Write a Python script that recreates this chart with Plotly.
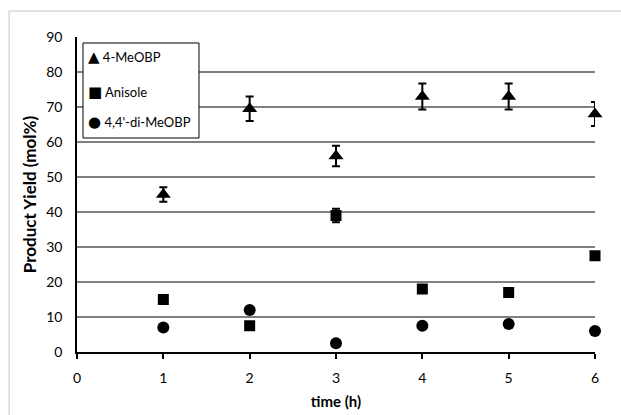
import plotly.graph_objects as go

time_h = [1, 2, 3, 4, 5, 6]
meobp = [45, 69.5, 56, 73, 73, 68]
meobp_err = [2.1, 3.5, 2.9, 3.7, 3.7, 3.4]
anisole = [15, 7.5, 39, 18, 17, 27.5]
anisole_err = [0, 0, 1.9, 0, 0, 0.6]
dimeobp = [7, 12, 2.5, 7.5, 8, 6]
names = ["4-MeOBP", "Anisole", "4,4'-di-MeOBP"]
legend_glyphs = ["\u25B2", "\u25A0", "\u25CF"]
x_ticks = [0, 1, 2, 3, 4, 5, 6]
y_ticks = [0, 10, 20, 30, 40, 50, 60, 70, 80, 90]

FONT = "Lato, 'Open Sans', sans-serif"

fig = go.Figure()
fig.add_trace(go.Scatter(
    x=time_h, y=meobp, mode="markers", name=names[0], cliponaxis=False,
    marker=dict(symbol="triangle-up", size=13, color="black"),
    error_y=dict(type="data", array=meobp_err, visible=True, color="black", thickness=2, width=4)))
fig.add_trace(go.Scatter(
    x=time_h, y=anisole, mode="markers", name=names[1], cliponaxis=False,
    marker=dict(symbol="square", size=11, color="black"),
    error_y=dict(type="data", array=anisole_err, visible=True, color="black", thickness=2, width=4)))
fig.add_trace(go.Scatter(
    x=time_h, y=dimeobp, mode="markers", name=names[2], cliponaxis=False,
    marker=dict(symbol="circle", size=12, color="black")))

# custom legend (box + text entries)
leg_x0, leg_x1, leg_y0, leg_y1 = 0.0116, 0.2355, 0.6794, 0.981
row_y = [0.9365, 0.8254, 0.7302]
annotations = []
for g, n, yy in zip(legend_glyphs, names, row_y):
    annotations.append(dict(
        xref="paper", yref="paper", x=0.0165, y=yy, xanchor="left", yanchor="middle",
        showarrow=False,
        text=f"<span style='font-family:DejaVu Sans;font-size:15px'>{g}</span> {n}",
        font=dict(family=FONT, size=13, color="black")))

fig.update_layout(
    width=621, height=415,
    margin=dict(l=77, r=26, t=37, b=63, autoexpand=False),
    paper_bgcolor="white", plot_bgcolor="white",
    font=dict(family=FONT, size=14, color="black"),
    showlegend=False,
    xaxis=dict(range=[0, 6], tickvals=x_ticks, showgrid=False, automargin=False,
               showline=True, linecolor="black", linewidth=1.5,
               ticks="outside", ticklen=5, tickcolor="black", tickwidth=1.5,
               tickfont=dict(size=14), zeroline=False, ticklabelstandoff=7,
               title=dict(text="<b>time (h)</b>", font=dict(size=15), standoff=12)),
    yaxis=dict(range=[0, 90], tickvals=y_ticks, showgrid=True, automargin=False,
               gridcolor="#808080", gridwidth=1.5,
               showline=True, linecolor="black", linewidth=1.5,
               ticks="", tickfont=dict(size=14), zeroline=False, ticklabelstandoff=10,
               title=dict(text="<b>Product Yield (mol%)</b>", font=dict(size=17), standoff=5)),
    shapes=[dict(type="rect", xref="paper", yref="paper",
                 x0=-0.131, x1=1.1, y0=-0.25, y1=1.0825,
                 line=dict(color="#d9d9d9", width=1.5), fillcolor="rgba(0,0,0,0)",
                 layer="below"),
            dict(type="rect", xref="paper", yref="paper",
                 x0=leg_x0, x1=leg_x1, y0=leg_y0, y1=leg_y1,
                 line=dict(color="black", width=1), fillcolor="white", layer="above")],
    annotations=annotations,
)

fig.write_html("out.html")
